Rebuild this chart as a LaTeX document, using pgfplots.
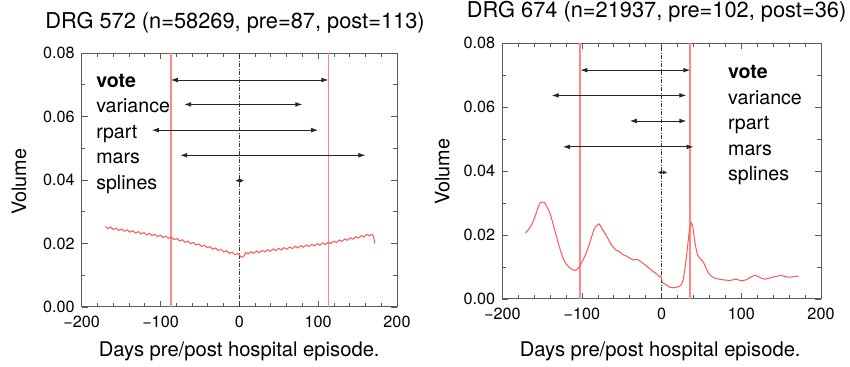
\documentclass[border=0pt]{standalone}
\usepackage{fontspec}
\setmainfont{TeX Gyre Heros}
\usepackage{pgfplots}
\pgfplotsset{compat=1.18}
\usetikzlibrary{arrows.meta}
\definecolor{curve}{RGB}{255,85,85}
\definecolor{vline}{RGB}{255,135,135}
\definecolor{frame}{RGB}{90,90,90}
\tikzset{
  lab/.style={anchor=base west, inner sep=0pt, font=\fontsize{9.8}{11}\selectfont},
}
\pgfplotsset{
  panel/.style={
    scale only axis,
    xmin=-200, xmax=200, ymin=0, ymax=0.08,
    xtick={-200,-100,0,100,200},
    xticklabels={−200,−100,0,100,200},
    ytick={0,0.02,0.04,0.06,0.08},
    yticklabels={0.00,0.02,0.04,0.06,0.08},
    scaled y ticks=false,
    minor x tick num=4, minor y tick num=1,
    tick align=inside,
    major tick length=3pt, minor tick length=1.8pt,
    axis line style={frame, line width=0.5pt},
    every tick/.style={frame, line width=0.4pt},
    tick label style={font=\fontsize{8.1}{9}\selectfont},
    xticklabel style={yshift=-1pt},
    clip=false,
  },
  arr/.style={black!85, line width=0.45pt, {Latex[length=3.5pt,width=2.4pt]}-{Latex[length=3.5pt,width=2.4pt]}},
  small arr/.style={black!85, line width=0.45pt, {Latex[length=2.2pt,width=2.2pt]}-{Latex[length=2.2pt,width=2.2pt]}},
  red line/.style={vline, line width=0.9pt},
  zero line/.style={black!80, line width=0.35pt, dash pattern=on 2pt off 0.8pt on 0.4pt off 0.8pt},
}
\begin{document}
\begin{tikzpicture}
\path[use as bounding box] (0,0) rectangle (425pt,183.5pt);
% ---------------- Left panel ----------------
\begin{axis}[panel, at={(40.85pt,30pt)}, anchor=south west, width=157.65pt, height=127pt]
\addplot[red line] coordinates {(-87,0) (-87,0.08)};
\addplot[red line] coordinates {(113,0) (113,0.08)};
\addplot[zero line] coordinates {(0,0) (0,0.08)};
\addplot[curve, line width=0.5pt] coordinates {
(-170,0.02540) (-167,0.02470) (-163,0.02512) (-160,0.02440) (-156,0.02484) (-153,0.02412)
(-149,0.02456) (-146,0.02385) (-142,0.02429) (-139,0.02357) (-135,0.02401) (-132,0.02329)
(-128,0.02373) (-125,0.02301) (-121,0.02345) (-118,0.02273) (-114,0.02317) (-111,0.02245)
(-107,0.02289) (-104,0.02217) (-100,0.02261) (-97,0.02189) (-93,0.02234) (-90,0.02162)
(-86,0.02204) (-83,0.02125) (-79,0.02160) (-76,0.02082) (-72,0.02117) (-69,0.02038)
(-65,0.02074) (-62,0.01995) (-58,0.02030) (-55,0.01952) (-51,0.01987) (-48,0.01908)
(-44,0.01943) (-41,0.01865) (-37,0.01900) (-34,0.01821) (-30,0.01857) (-27,0.01778)
(-23,0.01813) (-20,0.01735) (-16,0.01770) (-13,0.01691) (-9,0.01726) (-6,0.01648)
(-2,0.01683) (0,0.01630) (2,0.01580) (4,0.01570) (6,0.01610) (8,0.01720)
(11,0.01669) (15,0.01741) (18,0.01691) (22,0.01763) (25,0.01712) (29,0.01784)
(32,0.01733) (36,0.01805) (39,0.01755) (43,0.01827) (46,0.01776) (50,0.01848)
(53,0.01797) (57,0.01870) (60,0.01819) (64,0.01891) (67,0.01840) (71,0.01912)
(74,0.01861) (78,0.01934) (81,0.01883) (85,0.01955) (88,0.01904) (92,0.01976)
(95,0.01925) (99,0.01998) (102,0.01947) (106,0.02019) (109,0.01968) (113,0.02040)
(116,0.01995) (120,0.02075) (123,0.02030) (127,0.02110) (130,0.02065) (134,0.02145)
(137,0.02100) (141,0.02180) (144,0.02135) (148,0.02215) (151,0.02170) (155,0.02250)
(158,0.02205) (162,0.02285) (165,0.02240) (168,0.02290) (170,0.02240) (172,0.02000)
};
\addplot[arr] coordinates {(-87,0.0715) (113,0.0715)};
\addplot[arr] coordinates {(-70,0.0638) (80,0.0638)};
\addplot[arr] coordinates {(-111,0.0557) (100,0.0557)};
\addplot[arr] coordinates {(-75,0.0478) (160,0.0478)};
\addplot[small arr] coordinates {(-5,0.0398) (6,0.0398)};
\node[lab] at (axis cs:-182,0.0692) {\textbf{vote}};
\node[lab] at (axis cs:-182,0.0612) {variance};
\node[lab] at (axis cs:-182,0.0531) {rpart};
\node[lab] at (axis cs:-182,0.0453) {mars};
\node[lab] at (axis cs:-182,0.0371) {splines};
\end{axis}
% ---------------- Right panel ----------------
\begin{axis}[panel, at={(251.15pt,34pt)}, anchor=south west, width=159.35pt, height=127.85pt]
\addplot[red line] coordinates {(-102,0) (-102,0.08)};
\addplot[red line] coordinates {(36,0) (36,0.08)};
\addplot[zero line] coordinates {(0,0) (0,0.08)};
\addplot[curve, line width=0.5pt] coordinates {
(-171,0.0207) (-168,0.0214) (-165,0.0224) (-162,0.0238) (-159,0.0257) (-156,0.0280)
(-153,0.0300) (-150,0.0303) (-147,0.0302) (-144,0.0288) (-140,0.0268) (-136,0.0232)
(-132,0.0195) (-128,0.0160) (-124,0.0129) (-120,0.0110) (-116,0.0099) (-112,0.0092)
(-109,0.0089) (-106,0.0093) (-103,0.0101) (-99,0.0120) (-94,0.0148) (-89,0.0185)
(-85,0.0218) (-82,0.0228) (-79,0.0235) (-77,0.0230) (-74,0.0216) (-71,0.0205)
(-68,0.0192) (-65,0.0178) (-62,0.0166) (-59,0.0157) (-57,0.0152) (-54,0.0150)
(-51,0.0144) (-48,0.0138) (-44,0.0134) (-40,0.0128) (-36,0.0122) (-32,0.0124)
(-29,0.0122) (-25,0.0115) (-20,0.0105) (-15,0.0095) (-10,0.0085) (-6,0.0078)
(-3,0.0070) (-1,0.0072) (0,0.0062) (1,0.0051) (4,0.0047) (7,0.0042)
(10,0.0037) (14,0.0035) (18,0.0036) (22,0.0039) (25,0.0046) (27,0.0060)
(29,0.0090) (31,0.0130) (33,0.0175) (35,0.0218) (37,0.0240) (39,0.0228)
(41,0.0190) (43,0.0160) (45,0.0138) (48,0.0127) (51,0.0119) (53,0.0112)
(56,0.0095) (59,0.0080) (63,0.0070) (68,0.0064) (74,0.0061) (80,0.0059)
(86,0.0058) (91,0.0061) (94,0.0062) (97,0.0059) (101,0.0057) (106,0.0060)
(111,0.0067) (116,0.0074) (120,0.0072) (125,0.0065) (130,0.0062) (136,0.0066)
(142,0.0070) (150,0.0074) (155,0.0070) (160,0.0068) (166,0.0070) (172,0.0072)
};
\addplot[arr] coordinates {(-102,0.0716) (36,0.0716)};
\addplot[arr] coordinates {(-138,0.0637) (31,0.0637)};
\addplot[arr] coordinates {(-40,0.0557) (31,0.0557)};
\addplot[arr] coordinates {(-124,0.0476) (40,0.0476)};
\addplot[small arr] coordinates {(-5,0.0396) (7,0.0396)};
\node[lab] at (axis cs:83,0.0690) {\textbf{vote}};
\node[lab] at (axis cs:83,0.0609) {variance};
\node[lab] at (axis cs:83,0.0530) {rpart};
\node[lab] at (axis cs:83,0.0450) {mars};
\node[lab] at (axis cs:83,0.0370) {splines};
\end{axis}
% ---------------- Titles and labels ----------------
\node[anchor=base, inner sep=0pt, font=\fontsize{10.9}{12}\selectfont] at (117.5pt,169.3pt) {DRG 572 (n=58269, pre=87, post=113)};
\node[anchor=base, inner sep=0pt, font=\fontsize{10.9}{12}\selectfont] at (328.3pt,174.8pt) {DRG 674 (n=21937, pre=102, post=36)};
\node[anchor=base, inner sep=0pt, font=\fontsize{10.1}{12}\selectfont] at (119.6pt,5.2pt) {Days pre/post hospital episode.};
\node[anchor=base, inner sep=0pt, font=\fontsize{10.1}{12}\selectfont] at (330.1pt,5.2pt) {Days pre/post hospital episode.};
\node[rotate=90, inner sep=0pt, font=\fontsize{9.9}{12}\selectfont] at (9.5pt,92.7pt) {Volume};
\node[rotate=90, inner sep=0pt, font=\fontsize{9.9}{12}\selectfont] at (221.2pt,97.7pt) {Volume};
\end{tikzpicture}
\end{document}
